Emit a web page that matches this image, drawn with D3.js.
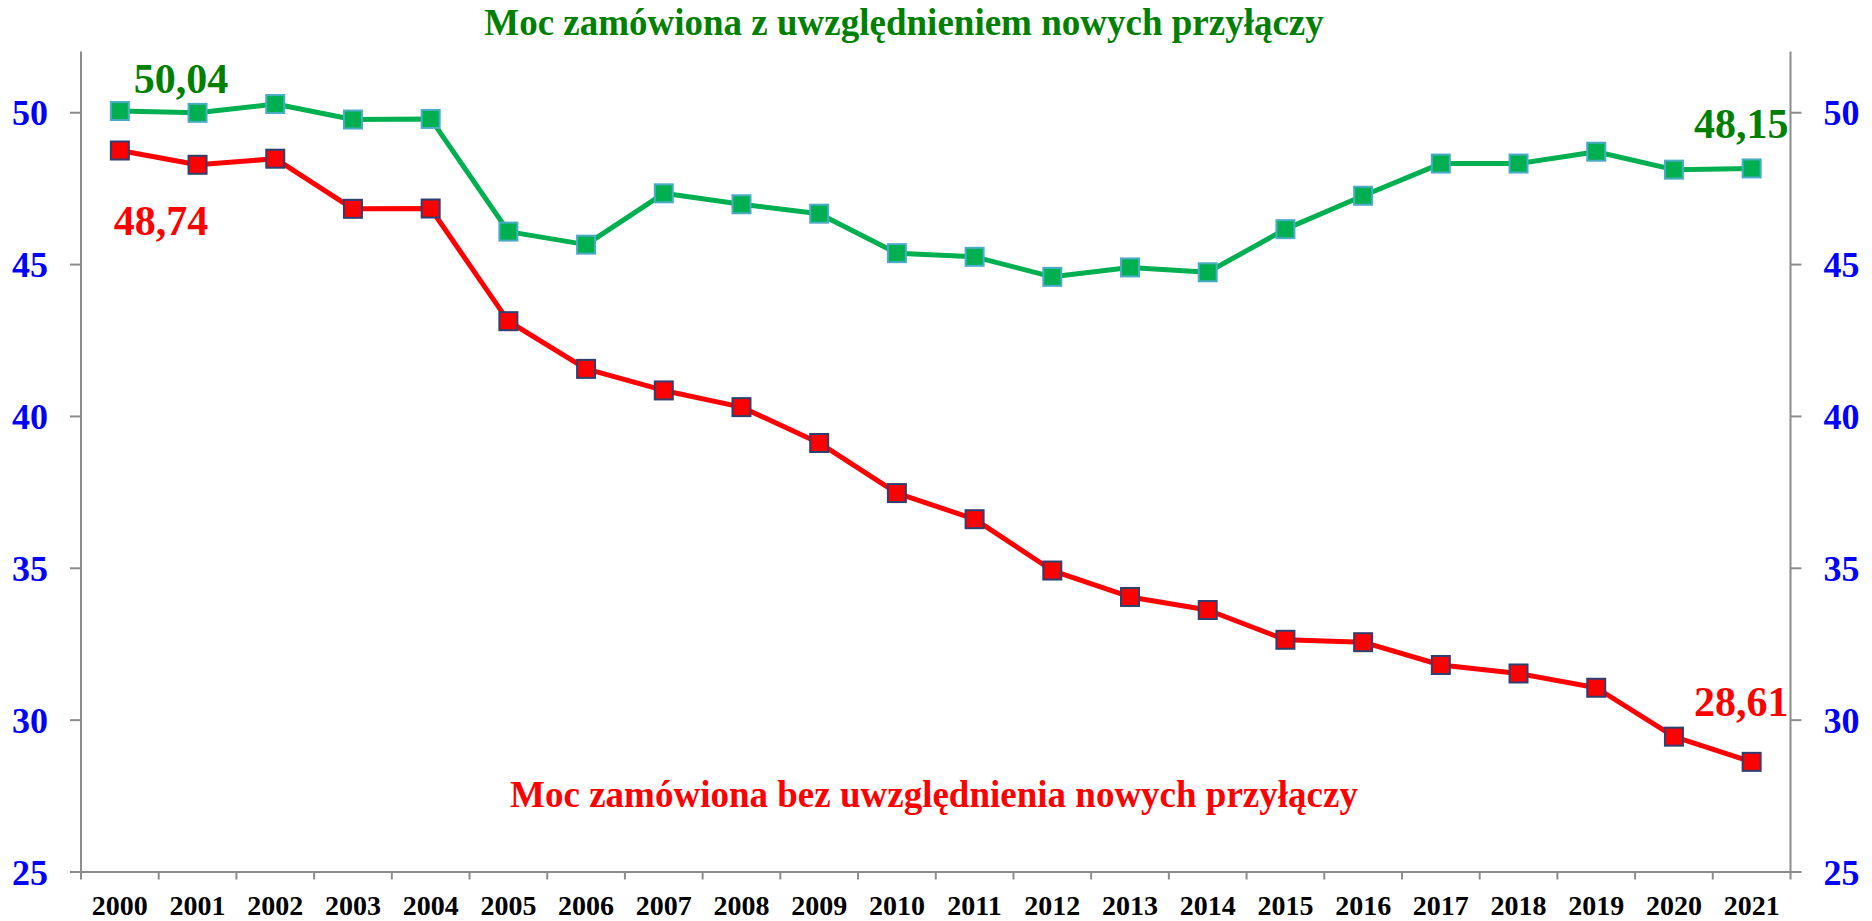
<!DOCTYPE html>
<html>
<head>
<meta charset="utf-8">
<script src="https://cdn.jsdelivr.net/npm/d3@7"></script>
<style>
  html, body { margin: 0; padding: 0; background: #fff; }
  svg { display: block; }
  text { font-family: "Liberation Serif", "Times New Roman", serif; font-weight: bold; }
</style>
</head>
<body>
<svg id="chart" width="1872" height="921"></svg>
<script>
const years = ["2000","2001","2002","2003","2004","2005","2006","2007","2008","2009","2010",
               "2011","2012","2013","2014","2015","2016","2017","2018","2019","2020","2021"];
const withNew = [50.04, 49.98, 50.27, 49.76, 49.78, 46.07, 45.64, 47.33, 46.97, 46.66, 45.36,
                 45.24, 44.58, 44.89, 44.73, 46.15, 47.25, 48.31, 48.31, 48.70, 48.11, 48.15];
const withoutNew = [48.74, 48.27, 48.47, 46.82, 46.83, 43.12, 41.55, 40.84, 40.29, 39.11, 37.46,
                    36.60, 34.91, 34.04, 33.61, 32.63, 32.55, 31.80, 31.52, 31.05, 29.44, 28.61];
const yTicks = [25, 30, 35, 40, 45, 50];
const titleGreen = "Moc zamówiona z uwzględnieniem nowych przyłączy";
const titleRed = "Moc zamówiona bez uwzględnienia nowych przyłączy";
const firstGreenLabel = "50,04", lastGreenLabel = "48,15";
const firstRedLabel = "48,74", lastRedLabel = "28,61";

(function () {
const svg = d3.select("#chart");
const pL = 81, pR = 1790.5, pT = 51.5, pB = 871.5;
const axisColor = "#8c8c8c";

const x = d3.scaleBand().domain(years).range([pL, pR]).padding(0);
const y = d3.scaleLinear().domain([25, 52]).range([pB, pT]);

// Left axis
const gL = svg.append("g").attr("transform", `translate(${pL},0)`)
  .call(d3.axisLeft(y).tickValues(yTicks).tickSize(11).tickSizeOuter(0).tickPadding(22).tickFormat(d3.format("d")));
// Right axis
const gR = svg.append("g").attr("transform", `translate(${pR},0)`)
  .call(d3.axisRight(y).tickValues(yTicks).tickSize(11).tickSizeOuter(0).tickPadding(22).tickFormat(d3.format("d")));
[gL, gR].forEach(g => {
  g.select(".domain").remove();
  g.selectAll(".tick line").attr("stroke", axisColor).attr("stroke-width", 2);
  g.selectAll(".tick text").attr("fill", "#0000ff").style("font-size", "36px").attr("dy", "0.35em");
  g.attr("font-family", null).attr("font-size", null);
});
// axis vertical lines
svg.append("line").attr("x1", pL).attr("x2", pL).attr("y1", y(52)).attr("y2", pB + 8)
  .attr("stroke", axisColor).attr("stroke-width", 2);
svg.append("line").attr("x1", pR).attr("x2", pR).attr("y1", y(52)).attr("y2", pB + 8)
  .attr("stroke", axisColor).attr("stroke-width", 2);

// Bottom axis
const gB = svg.append("g").attr("transform", `translate(0,${pB})`)
  .call(d3.axisBottom(x).tickSize(0).tickPadding(24));
gB.select(".domain").attr("stroke", axisColor).attr("stroke-width", 2);
gB.attr("font-family", null).attr("font-size", null);
gB.selectAll(".tick text").attr("fill", "#000").style("font-size", "28px").attr("dy", "0.71em");
// boundary ticks between categories
gB.selectAll(".bnd").data(years.slice(1)).enter().append("line")
  .attr("x1", d => x(d)).attr("x2", d => x(d)).attr("y1", 0).attr("y2", 8)
  .attr("stroke", axisColor).attr("stroke-width", 2);

// Lines
const line = d3.line().x((d, i) => x(years[i]) + x.bandwidth() / 2).y(d => y(d));
svg.append("path").datum(withNew).attr("d", line).attr("fill", "none")
  .attr("stroke", "#00b050").attr("stroke-width", 5).attr("stroke-linejoin", "round");
svg.append("path").datum(withoutNew).attr("d", line).attr("fill", "none")
  .attr("stroke", "#ff0000").attr("stroke-width", 5).attr("stroke-linejoin", "round");

// Markers
const ms = 18;
svg.selectAll(".mg").data(withNew).enter().append("rect")
  .attr("x", (d, i) => x(years[i]) + x.bandwidth() / 2 - ms / 2)
  .attr("y", d => y(d) - ms / 2).attr("width", ms).attr("height", ms)
  .attr("fill", "#00b050").attr("stroke", "#4bacc6").attr("stroke-width", 2);
svg.selectAll(".mr").data(withoutNew).enter().append("rect")
  .attr("x", (d, i) => x(years[i]) + x.bandwidth() / 2 - ms / 2)
  .attr("y", d => y(d) - ms / 2).attr("width", ms).attr("height", ms)
  .attr("fill", "#ff0000").attr("stroke", "#2f4070").attr("stroke-width", 2);

// Value labels
const cx0 = x(years[0]) + x.bandwidth() / 2;
svg.append("text").text(firstGreenLabel).attr("x", cx0 + 14).attr("y", y(withNew[0]) - 18)
  .attr("fill", "#008000").style("font-size", "42px");
svg.append("text").text(firstRedLabel).attr("x", cx0 - 6).attr("y", y(withoutNew[0]) + 84)
  .attr("fill", "#ff0000").style("font-size", "42px");
svg.append("text").text(lastGreenLabel).attr("x", pR - 2).attr("y", y(withNew[21]) - 30)
  .attr("text-anchor", "end").attr("fill", "#008000").style("font-size", "42px");
svg.append("text").text(lastRedLabel).attr("x", pR - 2).attr("y", y(withoutNew[21]) - 46)
  .attr("text-anchor", "end").attr("fill", "#ff0000").style("font-size", "42px");

// Titles
svg.append("text").text(titleGreen).attr("x", 904).attr("y", 35).attr("text-anchor", "middle")
  .attr("fill", "#008000").style("font-size", "37px");
svg.append("text").text(titleRed).attr("x", 934).attr("y", 807).attr("text-anchor", "middle")
  .attr("fill", "#ff0000").style("font-size", "37px");
})();
</script>
</body>
</html>
